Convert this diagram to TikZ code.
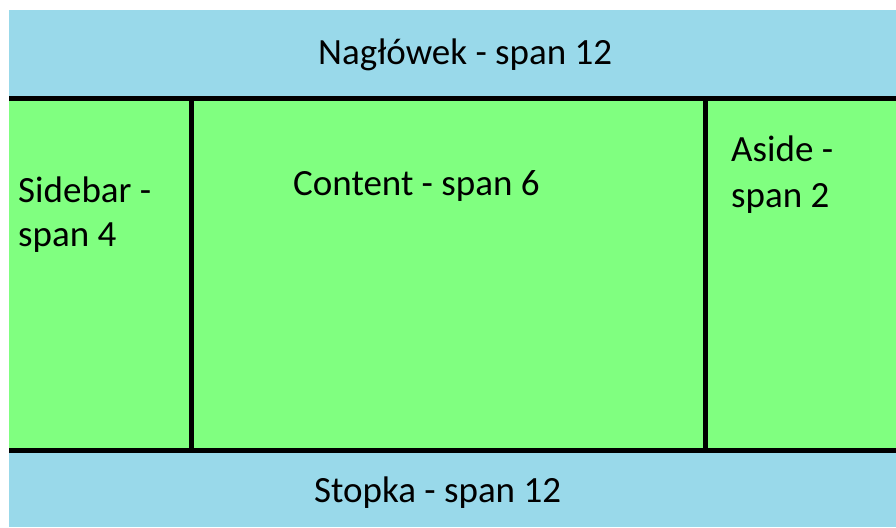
\documentclass[tikz,border=0pt]{standalone}
\usepackage{fontspec}
\setmainfont{Carlito}
\definecolor{pasek}{HTML}{99D9EA}
\definecolor{tresc}{HTML}{80FF80}
\tikzset{
	napis/.style={inner sep=0pt, anchor=base west, font=\fontsize{37}{44}\selectfont},
	krawedz/.style={line width=5.5pt, color=black}
}

\begin{document}
\begin{tikzpicture}[x=1pt, y=-1pt]
			%%%%% START %%%%%
			\useasboundingbox[fill=white] (0, 0) rectangle (896, 527);
			
			\draw[fill=pasek, draw=none] (9, 10) rectangle (896, 98.5);
			\draw[fill=tresc, draw=none] (9, 98.5) rectangle (896, 450.5);
			\draw[fill=pasek, draw=none] (9, 450.5) rectangle (896, 527);
			
			\draw[krawedz] (9, 98.5) -- (896, 98.5);
			\draw[krawedz] (9, 450.5) -- (896, 450.5);
			\draw[krawedz] (191.5, 98.5) -- (191.5, 450.5);
			\draw[krawedz] (705.5, 98.5) -- (705.5, 450.5);
			
			\node[napis] (naglowek) at (318, 64) {Nagłówek - span 12};
			\node[napis] (sidebar1) at (18, 202) {Sidebar -};
			\node[napis] (sidebar2) at (18, 246) {span 4};
			\node[napis] (content) at (293, 195) {Content - span 6};
			\node[napis] (aside1) at (731, 161) {Aside -};
			\node[napis] (aside2) at (731, 207) {span 2};
			\node[napis] (stopka) at (314, 502) {Stopka - span 12};
			
			%%%%% END %%%%%
\end{tikzpicture}
\end{document}
